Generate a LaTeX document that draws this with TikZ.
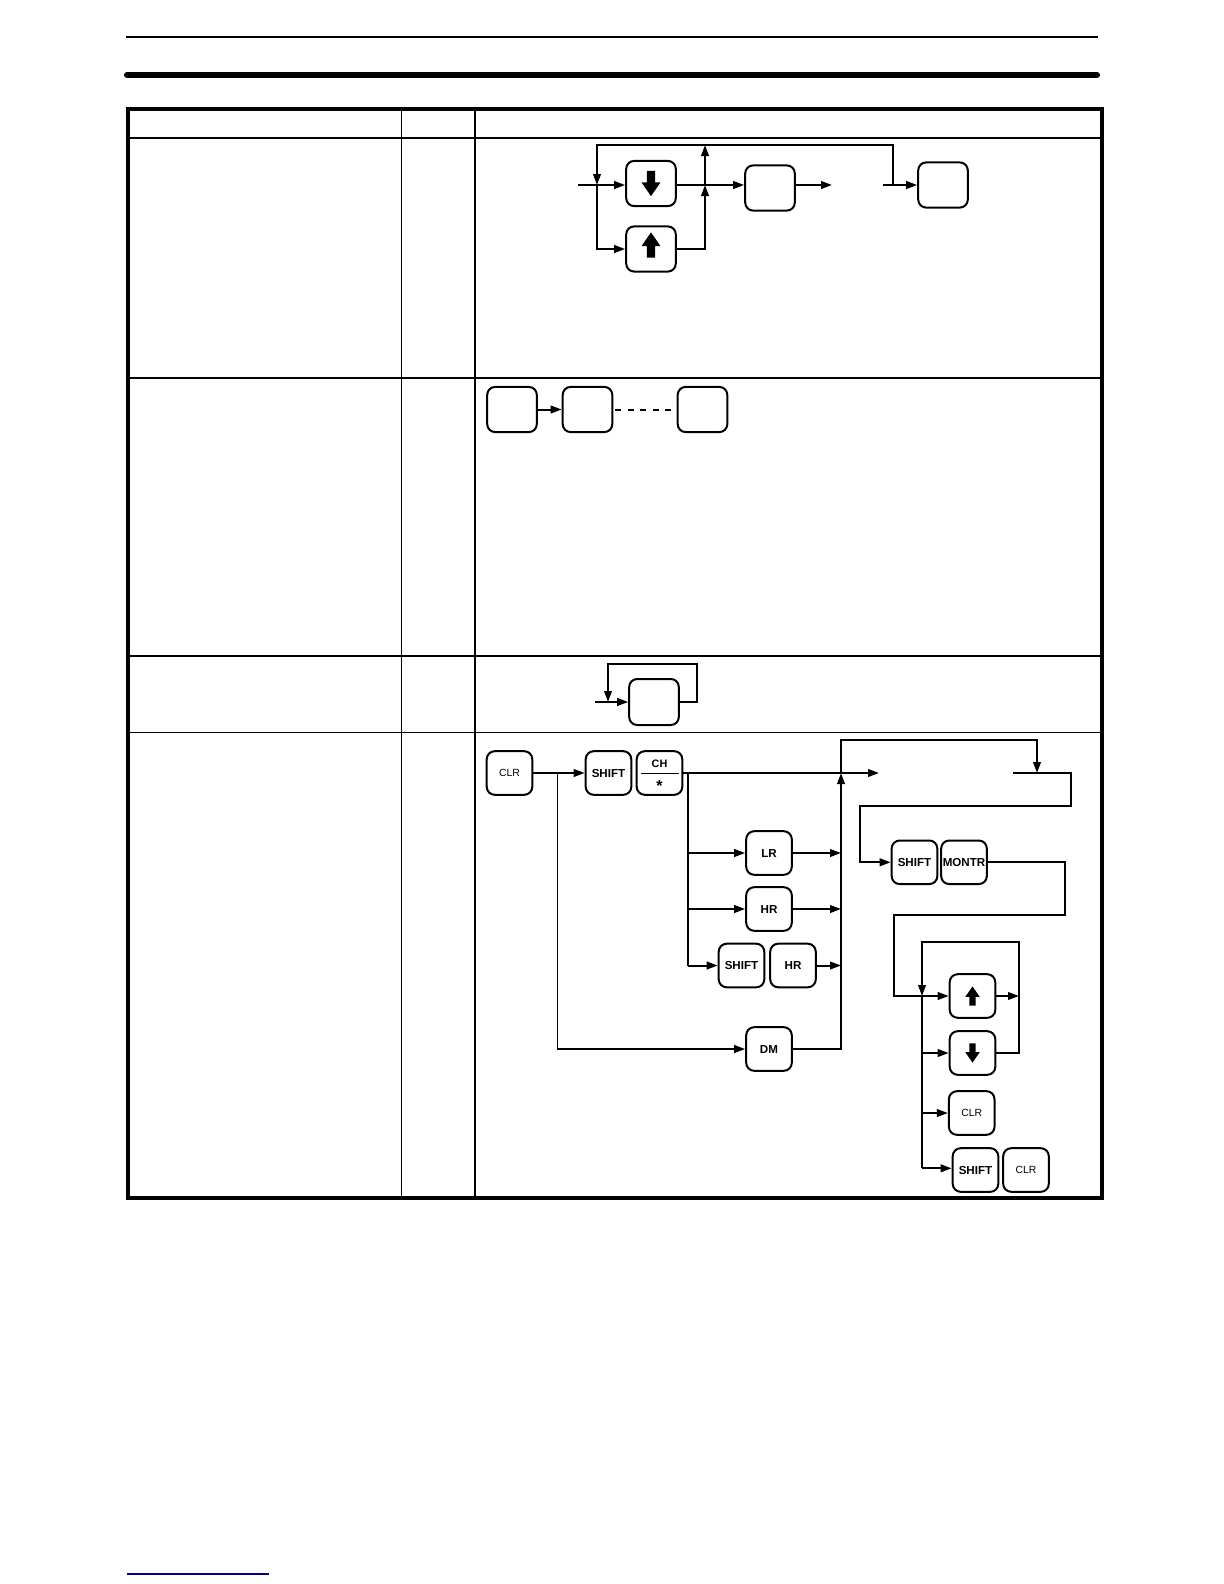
\documentclass[tikz,border=0pt]{standalone}
\usepackage{fontspec}
\setmainfont{Liberation Sans}
\usetikzlibrary{arrows.meta}
\newcommand\glyphdown[2]{\fill[shift={(#1.center)},scale=#2] (-4,-12) -- (4,-12) -- (4,-1) -- (9,-1) -- (0,12) -- (-9,-1) -- (-4,-1) -- cycle;}
\newcommand\glyphup[3]{\fill[shift={(#1.center)},yshift=#3,scale=#2] (-4,12) -- (4,12) -- (4,1) -- (9,1) -- (0,-12) -- (-9,1) -- (-4,1) -- cycle;}
\begin{document}
\begin{tikzpicture}[x=0.5pt,y=-0.5pt,
  bigkey/.style={draw,line width=1pt,rounded corners=4pt,minimum width=24.8pt,minimum height=22.6pt,inner sep=0pt},
  key/.style={draw,line width=1pt,rounded corners=4pt,minimum width=22.8pt,minimum height=21.8pt,inner sep=0pt},
  kb/.style={font=\bfseries\fontsize{5.8}{7}\selectfont},
  kr/.style={font=\fontsize{5.2}{6}\selectfont},
  conn/.style={line width=1pt},
  thinconn/.style={line width=0.5pt},
  arr/.style={conn,-{Triangle[length=5.5pt,width=3.8pt]}}]
\useasboundingbox (0,0) rectangle (1224,1584);
% page rules
\draw[line width=1pt] (126,37.4) -- (1098,37.4);
\draw[line width=3pt,line cap=round] (127,75) -- (1097,75);
\draw[line width=0.6pt,color={rgb,255:red,0;green,0;blue,140}] (127,1574) -- (269,1574);
% table
\draw[line width=1.4pt] (128,138) -- (1102,138);
\draw[line width=1pt] (128,378) -- (1102,378);
\draw[line width=0.9pt] (128,656) -- (1102,656);
\draw[line width=0.5pt] (128,732) -- (1102,732);
\draw[line width=0.5pt] (401.7,109) -- (401.7,1198);
\draw[line width=1pt] (475,109) -- (475,1198);
\draw[line width=1.6pt] (128,109) rectangle (1102,1198);

% ---------- row 1 ----------
\node[bigkey] (dn1) at (651,183.5) {};
\node[bigkey] (up1) at (651,249) {};
\node[bigkey] (b3) at (770,188) {};
\node[bigkey] (b4) at (943,185) {};
\glyphdown{dn1}{1.05}
\glyphup{up1}{1.05}{2pt}
\coordinate (in1) at (578,185);
\coordinate (r1k) at (893,185);
\coordinate (r1j) at (893,145);
\coordinate (r1a) at (597,145);
\coordinate (r1b) at (597,185);
\coordinate (jA) at (705,185);
\coordinate (jTop) at (705,145);
\coordinate (out3) at (832,185);
\coordinate (in4) at (883,185);
\draw[arr] (in1) -- (in1 -| dn1.west);
\draw[arr] (r1k) -- (r1j) -- (r1a) -- (r1b);
\draw[arr] (r1b) |- (up1.west);
\draw[arr] (dn1.east |- in1) -- (b3.west |- in1);
\draw[arr] (up1.east) -| (jA);
\draw[arr] (jA) -- (jTop);
\draw[arr] (b3.east |- in1) -- (out3);
\draw[arr] (in4) -- (in4 -| b4.west);

% ---------- row 2 ----------
\node[bigkey] (a2) at (512,409.5) {};
\node[bigkey] (b2) at (587.5,409.5) {};
\node[bigkey] (c2) at (702.5,409.5) {};
\draw[arr] (a2) -- (b2);
\draw[line width=1pt,dash pattern=on 3pt off 3.2pt,dash phase=-1pt] (b2) -- (c2);

% ---------- row 3 ----------
\node[bigkey,minimum height=23pt] (k3) at (654,702) {};
\coordinate (in3) at (595,702);
\coordinate (r3b) at (697,664);
\coordinate (r3d) at (608,702);
\draw[arr] (in3) -- (k3);
\draw[arr] (k3.east) -| (r3b) -| (r3d);

% ---------- row 4 ----------
\node[key,kr] (clr) at (509.5,773) {CLR};
\node[key,kb] (shA) at (608.5,773) {SHIFT};
\node[key] (ch) at (659.5,773) {};
\node[font=\bfseries\fontsize{5.4}{6}\selectfont,anchor=base,inner sep=0pt] (chT) at (659.5,767.6) {CH};
\node[font=\bfseries\fontsize{8}{9}\selectfont,anchor=base,inner sep=0pt] (chS) at (659.5,791.5) {*};
\draw[line width=0.6pt] (640.7,773.3) -- (679,773.3);
\node[key,kb] (lr) at (769,853) {LR};
\node[key,kb] (hr) at (769,909) {HR};
\node[key,kb] (shB) at (741.5,965.5) {SHIFT};
\node[key,kb] (hrB) at (793,965.5) {HR};
\node[key,kb] (dm) at (769,1049) {DM};
\node[key,kb] (shC) at (914.5,862.3) {SHIFT};
\node[key,kb] (mon) at (964,862.3) {MONTR};
\node[key] (upk) at (972.5,996) {};
\node[key] (dnk) at (972.5,1053) {};
\node[key,kr] (clrB) at (971.7,1113) {CLR};
\node[key,kb] (shD) at (975.5,1170) {SHIFT};
\node[key,kr] (clrC) at (1026,1170) {CLR};
\glyphup{upk}{0.8}{0pt}
\glyphdown{dnk}{0.8}

\coordinate (v1) at (557,773);
\coordinate (v2) at (557,1049);
\draw[arr] (clr) -- (shA);
\draw[thinconn] (v1) -- (v2);
\draw[arr] (v2) -- (dm.west);
\coordinate (r4o) at (879,773);
\draw[arr] (ch.east) -- (r4o);
\coordinate (bb1) at (688,773);
\coordinate (bb2) at (688,965.5);
\draw[conn] (bb1) -- (bb2);
\draw[arr] (bb1 |- lr) -- (lr.west);
\draw[arr] (bb1 |- hr) -- (hr.west);
\draw[arr] (bb2) -- (shB.west);
\coordinate (cx) at (841,773);
\coordinate (ct) at (841,740);
\coordinate (ctr) at (1037,740);
\coordinate (ctd) at (1037,773);
\draw[arr] (lr.east) -- (cx |- lr);
\draw[arr] (hr.east) -- (cx |- hr);
\draw[arr] (hrB.east) -- (cx |- hrB);
\draw[arr] (dm.east) -| (cx);
\draw[arr] (cx) -- (ct) -- (ctr) -- (ctd);
\coordinate (s1) at (1013,773);
\coordinate (s2) at (1071,773);
\coordinate (s3) at (1071,806);
\coordinate (s4) at (860,806);
\draw[arr] (s1) -- (s2) -- (s3) -- (s4) |- (shC.west);
\coordinate (m1) at (1065,862.3);
\coordinate (m2) at (1065,915);
\coordinate (m3) at (894,915);
\draw[arr] (mon.east) -- (m1) -- (m2) -- (m3) |- (upk.west);
\coordinate (lp) at (1019,996);
\coordinate (lt) at (1019,941.7);
\coordinate (lv) at (922,996);
\coordinate (lb) at (922,1168.3);
\draw[arr] (upk.east) -- (lp);
\draw[arr] (dnk.east) -| (lt) -| (lv);
\draw[conn] (lv) -- (lb);
\draw[arr] (lv |- dnk) -- (dnk.west);
\draw[arr] (lv |- clrB) -- (clrB.west);
\draw[arr] (lb) -- (lb -| shD.west);
\end{tikzpicture}
\end{document}
